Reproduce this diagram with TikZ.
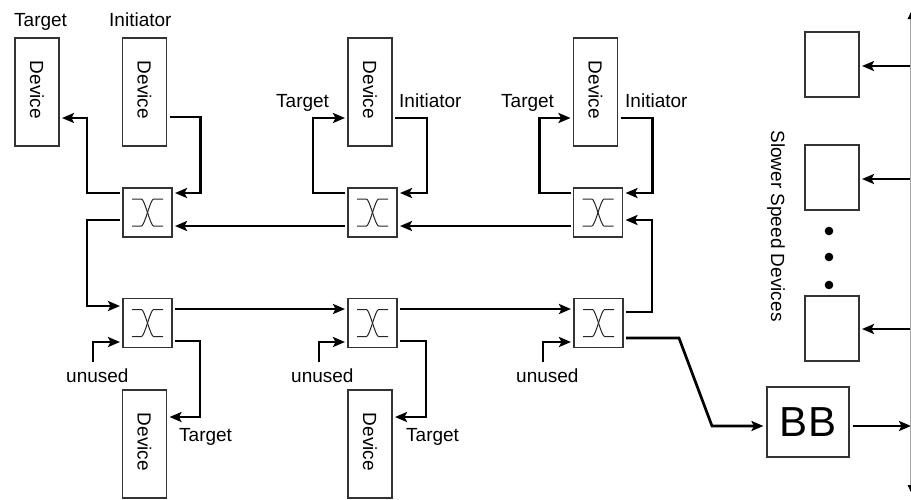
\documentclass[tikz,border=0pt]{standalone}
\usepackage{fontspec}
\setmainfont{Liberation Sans}
\usetikzlibrary{arrows.meta}
\tikzset{
  conn/.style={line width=2.7pt, line join=miter, shorten <=3pt, shorten >=3pt,
    -{Stealth[length=12pt,width=10pt,inset=2.5pt]}},
  devbox/.style={draw=black!80, line width=1.1pt, minimum width=44pt, minimum height=108pt,
    inner sep=0pt, outer sep=0pt},
  slowbox/.style={draw=black!80, line width=1.1pt, minimum width=54pt, minimum height=65pt,
    inner sep=0pt, outer sep=0pt},
  devtext/.style={rotate=-90, font=\fontsize{19}{21}\selectfont},
  lbl/.style={anchor=base west, inner sep=0pt, font=\fontsize{19}{21}\selectfont},
  xsw/.style={draw=black!80, line width=1.1pt, minimum width=49pt, minimum height=49pt,
    inner sep=0pt, outer sep=0pt,
    path picture={
      \begin{scope}[shift={(path picture bounding box.center)}]
        \draw[black!85, line width=1pt]
          (-15.5,-13.5) -- (-6,-13.5) .. controls (-3,-13.5) and (3,13.5) .. (6,13.5) -- (15.5,13.5);
        \draw[black!85, line width=1pt]
          (-15.5,13.5) -- (-6,13.5) .. controls (-3,13.5) and (3,-13.5) .. (6,-13.5) -- (15.5,-13.5);
      \end{scope}
    }},
}
\begin{document}
\begin{tikzpicture}[x=1pt, y=-1pt]
\useasboundingbox (0,0) rectangle (911,499);
\clip (0,0) rectangle (911,499);

% devices
\node[devbox] (D1) at (37,92) {};
\node[devbox] (D2) at (144.5,92) {};
\node[devbox] (D3) at (370,92) {};
\node[devbox] (D4) at (595.5,92) {};
\node[devbox] (D5) at (144.5,444) {};
\node[devbox] (D6) at (370,444) {};
\foreach \d in {D1,D2,D3,D4,D5,D6} \node[devtext] (\d t) at ([yshift=2pt]\d) {Device};

% switches
\node[xsw] (S1) at (147.5,212.5) {};
\node[xsw] (S2) at (372.5,212.5) {};
\node[xsw] (S3) at (598,212.5) {};
\node[xsw] (S4) at (147.5,323) {};
\node[xsw] (S5) at (372.5,323) {};
\node[xsw] (S6) at (598.5,323) {};

% BB and slower devices
\node[draw=black!80, line width=1.1pt, minimum width=82pt, minimum height=70pt, inner sep=0pt,
  font=\fontsize{42}{42}\selectfont] (BB) at (808,422) {BB};
\node[slowbox] (SD1) at (832,64.5) {};
\node[slowbox] (SD2) at (832,177.5) {};
\node[slowbox] (SD3) at (832,328.5) {};
\fill (829,231) circle (4.3) (829,257) circle (4.3) (829,285) circle (4.3);
\node[devtext] (slow) at (776,226) {Slower Speed Devices};

% labels
\node[lbl] (l1) at (14,26.5) {Target};
\node[lbl] (l2) at (109,26.5) {Initiator};
\node[lbl] (l3) at (276,107) {Target};
\node[lbl] (l4) at (399,107) {Initiator};
\node[lbl] (l5) at (501,107) {Target};
\node[lbl] (l6) at (625,107) {Initiator};
\node[lbl] (l7) at (66,382) {unused};
\node[lbl] (l8) at (291,382) {unused};
\node[lbl] (l9) at (516,382) {unused};
\node[lbl] (l10) at (179,441) {Target};
\node[lbl] (l11) at (406,441) {Target};

% top row device connections
\draw[conn] ([yshift=19.5pt]S1.west) -- ++(-36,0) |- ([yshift=-26pt]D1.east);
\draw[conn] ([yshift=-25pt]D2.east) -- ++(34,0) |- ([yshift=19.5pt]S1.east);
\draw[conn] ([yshift=19.5pt]S2.west) -- ++(-35,0) |- ([yshift=-26pt]D3.west);
\draw[conn] ([yshift=-26pt]D3.east) -- ++(35,0) |- ([yshift=19.5pt]S2.east);
\draw[conn] ([yshift=19.5pt]S3.west) -- ++(-34,0) |- ([yshift=-26pt]D4.west);
\draw[conn] ([yshift=-26pt]D4.east) -- ++(35,0) |- ([yshift=19.5pt]S3.east);

% ring
\draw[conn] ([yshift=-13.5pt]S3.west) -- ([yshift=-13.5pt]S2.east);
\draw[conn] ([yshift=-13.5pt]S2.west) -- ([yshift=-13.5pt]S1.east);
\draw[conn] ([yshift=-7.5pt]S1.west) -- ++(-36,0) |- ([yshift=17pt]S4.west);
\draw[conn] ([yshift=14pt]S4.east) -- ([yshift=14pt]S5.west);
\draw[conn] ([yshift=14pt]S5.east) -- ([yshift=14pt]S6.west);
\draw[conn] ([yshift=11pt]S6.east) -- ++(29,0) |- ([yshift=-7.5pt]S3.east);

% bottom targets
\draw[conn] ([yshift=-18pt]S4.east) -- ++(28,0) |- ([yshift=27pt]D5.east);
\draw[conn] ([yshift=-18pt]S5.east) -- ++(29,0) |- ([yshift=27pt]D6.east);

% unused inputs
\coordinate (u4) at (93,362);
\coordinate (u5) at (319,362);
\coordinate (u6) at (543,362);
\draw[conn, shorten <=0pt] (u4) |- ([yshift=-19pt]S4.west);
\draw[conn, shorten <=0pt] (u5) |- ([yshift=-19pt]S5.west);
\draw[conn, shorten <=0pt] (u6) |- ([yshift=-19pt]S6.west);

% to BB
\draw[conn] ([yshift=-15pt]S6.east) -- ++(56,0) -- ++(33,88) -- ([yshift=-4pt]BB.west);
\coordinate (bbout) at (911,426);
\draw[conn, shorten >=0pt] ([yshift=-4pt]BB.east) -- (bbout);

% slower device inputs
\coordinate (e1) at (911,66);
\coordinate (e2) at (911,179);
\coordinate (e3) at (911,329);
\draw[conn, shorten <=0pt] (e1) -- (e1 -| SD1.east);
\draw[conn, shorten <=0pt] (e2) -- (e2 -| SD2.east);
\draw[conn, shorten <=0pt] (e3) -- (e3 -| SD3.east);

% right edge bus
\coordinate (bt) at (910.5,12);
\coordinate (bb) at (910.5,492);
\draw[black!35, line width=0.8pt, {Latex[length=7pt,width=6pt,black]}-{Latex[length=7pt,width=6pt,black]}] (bt) -- (bb);
\end{tikzpicture}
\end{document}
